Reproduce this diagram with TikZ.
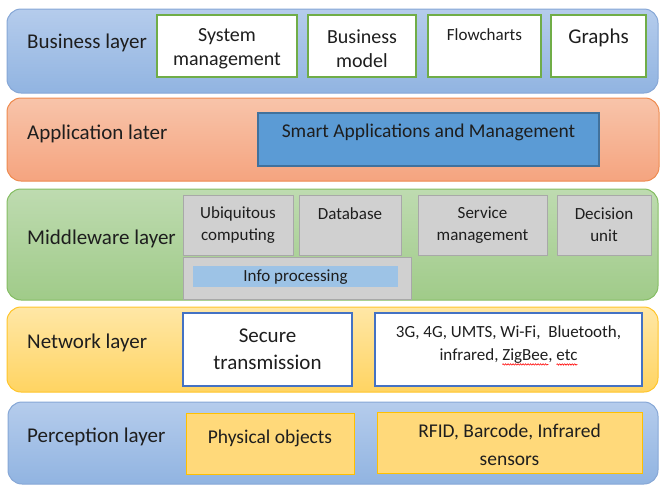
\documentclass[tikz,border=0pt]{standalone}
\usepackage{fontspec}
\setmainfont{Carlito}
\usepackage{tikz}
\usetikzlibrary{decorations.pathmorphing}
\definecolor{ILBlueTop}{HTML}{B5CCEC}
\definecolor{ILBlueBot}{HTML}{91B4E1}
\definecolor{ILBlueLine}{HTML}{86A7D6}
\definecolor{ILOrangeTop}{HTML}{F8C4AA}
\definecolor{ILOrangeBot}{HTML}{F5A47F}
\definecolor{ILOrangeLine}{HTML}{EE8A4E}
\definecolor{ILGreenTop}{HTML}{BEDBB0}
\definecolor{ILGreenBot}{HTML}{A0CB89}
\definecolor{ILGreenLine}{HTML}{84BD62}
\definecolor{ILGoldTop}{HTML}{FFE7A6}
\definecolor{ILGoldBot}{HTML}{FFD462}
\definecolor{ILGoldLine}{HTML}{FFC52A}
\definecolor{ILBoxGreen}{HTML}{70AD47}
\definecolor{ILSmart}{HTML}{5B9BD5}
\definecolor{ILSmartLine}{HTML}{41719C}
\definecolor{ILGrey}{HTML}{D0D0D0}
\definecolor{ILGreyLine}{HTML}{A8A8A8}
\definecolor{ILInfo}{HTML}{9DC3E6}
\definecolor{ILNetLine}{HTML}{4472C4}
\definecolor{ILSensor}{HTML}{FFD97A}
\definecolor{ILSensorLine}{HTML}{FFC000}
\definecolor{ILText}{HTML}{1E1E1E}
% red spell-check wave under a word
\newcommand\ILwave[1]{\setbox0\hbox{#1}\tikz[baseline,overlay]\draw[red,line width=0.6pt,decorate,decoration={snake,amplitude=0.7pt,segment length=2.5pt}] (0pt,-4pt) -- (\wd0,-4pt);\box0}

\begin{document}
\begin{tikzpicture}[x=1pt,y=-1pt,
  layer/.style={rounded corners=14,line width=1},
  txt/.style={inner sep=0,text=ILText,align=center},
  lbl/.style={txt,anchor=west,font=\fontsize{21}{25}\selectfont},
  bizbox/.style={draw=ILBoxGreen,fill=white,line width=2.2},
  midbox/.style={draw=ILGreyLine,fill=ILGrey,line width=1},
  netbox/.style={draw=ILNetLine,fill=white,line width=2},
  senbox/.style={draw=ILSensorLine,fill=ILSensor,line width=1}]
\useasboundingbox (0,0) rectangle (660,485);
% layers
\draw[layer,draw=ILBlueLine,top color=ILBlueTop,bottom color=ILBlueBot] (7,9) rectangle (658,93);
\draw[layer,draw=ILOrangeLine,top color=ILOrangeTop,bottom color=ILOrangeBot] (7,98) rectangle (659,181);
\draw[layer,draw=ILGreenLine,top color=ILGreenTop,bottom color=ILGreenBot] (7,189) rectangle (658,300);
\draw[layer,draw=ILGoldLine,top color=ILGoldTop,bottom color=ILGoldBot] (7,307) rectangle (658,392);
\draw[layer,draw=ILBlueLine,top color=ILBlueTop,bottom color=ILBlueBot] (8,402) rectangle (658,484);
% business layer
\node[lbl] (business) at (27,43) {Business layer};
\draw[bizbox] (157,15) rectangle (297,77);
\node[txt,font=\fontsize{20}{24}\selectfont] (sysmgmt) at (227,49) {System\\management};
\draw[bizbox] (308,15) rectangle (416,77);
\node[txt,font=\fontsize{20}{24}\selectfont] (bizmodel) at (362,49) {Business\\model};
\draw[bizbox] (428,15) rectangle (541,77);
\node[txt,font=\fontsize{17}{20}\selectfont] (flowcharts) at (484.5,35) {Flowcharts};
\draw[bizbox] (551,15) rectangle (646,77);
\node[txt,font=\fontsize{21}{25}\selectfont] (graphs) at (598.5,38) {Graphs};
% application layer
\node[lbl] (application) at (27,134) {Application later};
\draw[draw=ILSmartLine,fill=ILSmart,line width=1.5] (258,113) rectangle (599,166);
\node[txt,font=\fontsize{19.5}{24}\selectfont] (smart) at (428.5,132) {Smart Applications and Management};
% middleware layer
\node[lbl] (middleware) at (27,239) {Middleware layer};
\draw[midbox] (183,195) rectangle (293,255);
\node[txt,font=\fontsize{17}{22}\selectfont] (ubiq) at (238,225) {Ubiquitous\\computing};
\draw[midbox] (299,195) rectangle (401,255);
\node[txt,font=\fontsize{17}{22}\selectfont] (database) at (350,214) {Database};
\draw[midbox] (418,195) rectangle (547,255);
\node[txt,font=\fontsize{17}{22}\selectfont] (service) at (482.5,225) {Service\\management};
\draw[midbox] (557,195) rectangle (651,255);
\node[txt,font=\fontsize{17}{22}\selectfont] (decision) at (604,225) {Decision\\unit};
\draw[midbox] (183,257) rectangle (411,299);
\fill[ILInfo] (193,266) rectangle (398,287);
\node[txt,font=\fontsize{17}{22}\selectfont] (info) at (295.5,277) {Info processing};
% network layer
\node[lbl] (network) at (27,343) {Network layer};
\draw[netbox] (183,313) rectangle (352,386);
\node[txt,font=\fontsize{21}{27}\selectfont] (secure) at (267.5,349) {Secure\\transmission};
\draw[netbox] (375,313) rectangle (642,386);
\node[txt,font=\fontsize{17}{23}\selectfont] (tech) at (508.5,344.5) {3G, 4G, UMTS, Wi-Fi,\ \ Bluetooth,\\infrared, \ILwave{ZigBee}, \ILwave{etc}};
% perception layer
\node[lbl] (perception) at (27,437) {Perception layer};
\draw[senbox] (186,413) rectangle (354,474);
\node[txt,font=\fontsize{19.5}{24}\selectfont] (physical) at (270,438) {Physical objects};
\draw[senbox] (377,412) rectangle (642,473);
\node[txt,font=\fontsize{19.5}{28}\selectfont] (rfid) at (509.5,445) {RFID, Barcode, Infrared\\sensors};
\end{tikzpicture}
\end{document}
